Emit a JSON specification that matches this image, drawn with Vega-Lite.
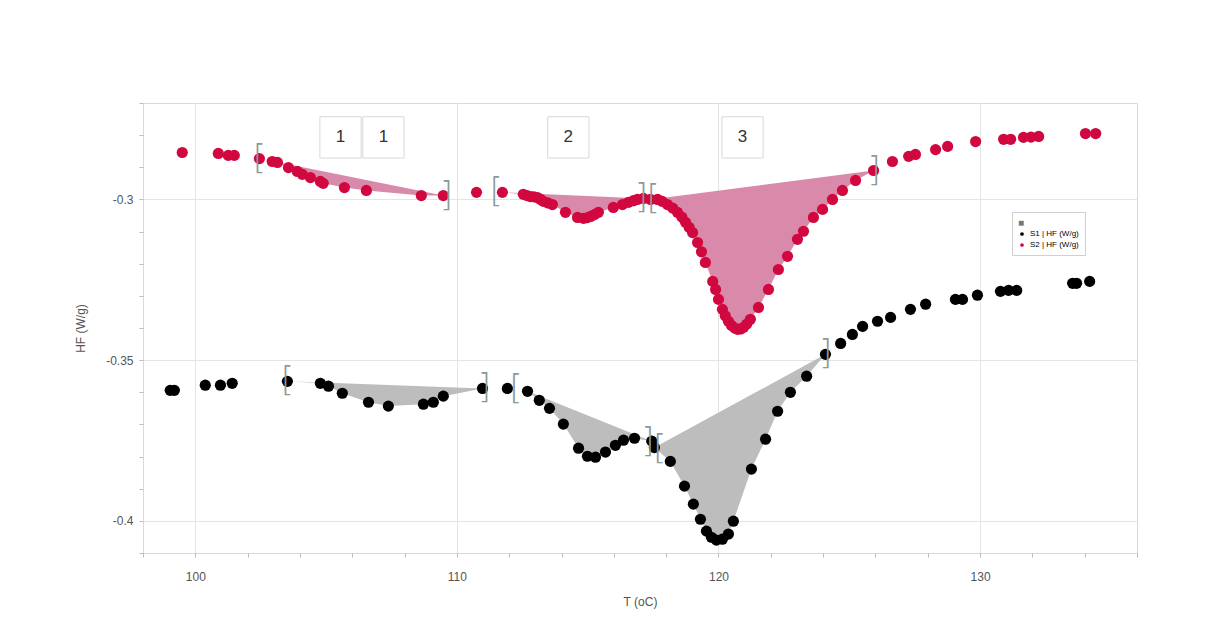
{
  "$schema": "https://vega.github.io/schema/vega-lite/v6.json",
  "autosize": {"type": "none"},
  "padding": {"left": 143, "top": 103, "right": 73, "bottom": 66},
  "width": 994,
  "height": 450,
  "background": "white",
  "config": {
    "view": {"stroke": "#d9d9d9", "strokeWidth": 1},
    "font": "Liberation Sans",
    "axis": {
      "labelFont": "Liberation Sans",
      "titleFont": "Liberation Sans",
      "labelColor": "#555",
      "titleColor": "#555",
      "labelFontSize": 12,
      "titleFontSize": 12,
      "titleFontWeight": "normal",
      "tickColor": "#bbb",
      "tickSize": 4,
      "gridColor": "#e4e4e4",
      "domain": false
    }
  },
  "datasets": {
    "hf": [
      {"T": 99.50, "v": -0.2854, "series": "S2 | HF (W/g)"},
      {"T": 100.88, "v": -0.2857, "series": "S2 | HF (W/g)"},
      {"T": 101.26, "v": -0.2863, "series": "S2 | HF (W/g)"},
      {"T": 101.49, "v": -0.2863, "series": "S2 | HF (W/g)"},
      {"T": 102.45, "v": -0.2873, "series": "S2 | HF (W/g)", "peak": "p1"},
      {"T": 102.94, "v": -0.2882, "series": "S2 | HF (W/g)", "peak": "p1"},
      {"T": 103.14, "v": -0.2885, "series": "S2 | HF (W/g)", "peak": "p1"},
      {"T": 103.56, "v": -0.2901, "series": "S2 | HF (W/g)", "peak": "p1"},
      {"T": 103.90, "v": -0.2913, "series": "S2 | HF (W/g)", "peak": "p1"},
      {"T": 104.09, "v": -0.2922, "series": "S2 | HF (W/g)", "peak": "p1"},
      {"T": 104.40, "v": -0.2932, "series": "S2 | HF (W/g)", "peak": "p1"},
      {"T": 104.78, "v": -0.2944, "series": "S2 | HF (W/g)", "peak": "p1"},
      {"T": 104.89, "v": -0.2950, "series": "S2 | HF (W/g)", "peak": "p1"},
      {"T": 105.70, "v": -0.2963, "series": "S2 | HF (W/g)", "peak": "p1"},
      {"T": 106.54, "v": -0.2972, "series": "S2 | HF (W/g)", "peak": "p1"},
      {"T": 108.64, "v": -0.2988, "series": "S2 | HF (W/g)", "peak": "p1"},
      {"T": 109.48, "v": -0.2988, "series": "S2 | HF (W/g)", "peak": "p1"},
      {"T": 110.75, "v": -0.2978, "series": "S2 | HF (W/g)"},
      {"T": 111.74, "v": -0.2978, "series": "S2 | HF (W/g)", "peak": "p2"},
      {"T": 112.54, "v": -0.2984, "series": "S2 | HF (W/g)", "peak": "p2"},
      {"T": 112.68, "v": -0.2988, "series": "S2 | HF (W/g)", "peak": "p2"},
      {"T": 112.81, "v": -0.2991, "series": "S2 | HF (W/g)", "peak": "p2"},
      {"T": 112.95, "v": -0.2992, "series": "S2 | HF (W/g)", "peak": "p2"},
      {"T": 113.08, "v": -0.2994, "series": "S2 | HF (W/g)", "peak": "p2"},
      {"T": 113.20, "v": -0.3000, "series": "S2 | HF (W/g)", "peak": "p2"},
      {"T": 113.31, "v": -0.3006, "series": "S2 | HF (W/g)", "peak": "p2"},
      {"T": 113.48, "v": -0.3011, "series": "S2 | HF (W/g)", "peak": "p2"},
      {"T": 113.65, "v": -0.3016, "series": "S2 | HF (W/g)", "peak": "p2"},
      {"T": 114.15, "v": -0.3040, "series": "S2 | HF (W/g)", "peak": "p2"},
      {"T": 114.61, "v": -0.3056, "series": "S2 | HF (W/g)", "peak": "p2"},
      {"T": 114.84, "v": -0.3059, "series": "S2 | HF (W/g)", "peak": "p2"},
      {"T": 114.97, "v": -0.3057, "series": "S2 | HF (W/g)", "peak": "p2"},
      {"T": 115.11, "v": -0.3053, "series": "S2 | HF (W/g)", "peak": "p2"},
      {"T": 115.26, "v": -0.3047, "series": "S2 | HF (W/g)", "peak": "p2"},
      {"T": 115.41, "v": -0.3040, "series": "S2 | HF (W/g)", "peak": "p2"},
      {"T": 115.98, "v": -0.3025, "series": "S2 | HF (W/g)", "peak": "p2"},
      {"T": 116.33, "v": -0.3016, "series": "S2 | HF (W/g)", "peak": "p2"},
      {"T": 116.56, "v": -0.3009, "series": "S2 | HF (W/g)", "peak": "p2"},
      {"T": 116.75, "v": -0.3004, "series": "S2 | HF (W/g)", "peak": "p2"},
      {"T": 116.90, "v": -0.3000, "series": "S2 | HF (W/g)", "peak": "p2"},
      {"T": 117.13, "v": -0.2997, "series": "S2 | HF (W/g)", "peak": "p2"},
      {"T": 117.40, "v": -0.3000, "series": "S2 | HF (W/g)", "peak": "p3"},
      {"T": 117.67, "v": -0.3000, "series": "S2 | HF (W/g)", "peak": "p3"},
      {"T": 117.85, "v": -0.3006, "series": "S2 | HF (W/g)", "peak": "p3"},
      {"T": 118.05, "v": -0.3016, "series": "S2 | HF (W/g)", "peak": "p3"},
      {"T": 118.25, "v": -0.3027, "series": "S2 | HF (W/g)", "peak": "p3"},
      {"T": 118.43, "v": -0.3040, "series": "S2 | HF (W/g)", "peak": "p3"},
      {"T": 118.60, "v": -0.3055, "series": "S2 | HF (W/g)", "peak": "p3"},
      {"T": 118.74, "v": -0.3071, "series": "S2 | HF (W/g)", "peak": "p3"},
      {"T": 118.88, "v": -0.3087, "series": "S2 | HF (W/g)", "peak": "p3"},
      {"T": 119.01, "v": -0.3103, "series": "S2 | HF (W/g)", "peak": "p3"},
      {"T": 119.20, "v": -0.3134, "series": "S2 | HF (W/g)", "peak": "p3"},
      {"T": 119.35, "v": -0.3163, "series": "S2 | HF (W/g)", "peak": "p3"},
      {"T": 119.50, "v": -0.3196, "series": "S2 | HF (W/g)", "peak": "p3"},
      {"T": 119.78, "v": -0.3255, "series": "S2 | HF (W/g)", "peak": "p3"},
      {"T": 119.89, "v": -0.3280, "series": "S2 | HF (W/g)", "peak": "p3"},
      {"T": 120.00, "v": -0.3311, "series": "S2 | HF (W/g)", "peak": "p3"},
      {"T": 120.15, "v": -0.3342, "series": "S2 | HF (W/g)", "peak": "p3"},
      {"T": 120.26, "v": -0.3362, "series": "S2 | HF (W/g)", "peak": "p3"},
      {"T": 120.38, "v": -0.3379, "series": "S2 | HF (W/g)", "peak": "p3"},
      {"T": 120.50, "v": -0.3392, "series": "S2 | HF (W/g)", "peak": "p3"},
      {"T": 120.62, "v": -0.3400, "series": "S2 | HF (W/g)", "peak": "p3"},
      {"T": 120.73, "v": -0.3404, "series": "S2 | HF (W/g)", "peak": "p3"},
      {"T": 120.85, "v": -0.3403, "series": "S2 | HF (W/g)", "peak": "p3"},
      {"T": 120.96, "v": -0.3398, "series": "S2 | HF (W/g)", "peak": "p3"},
      {"T": 121.08, "v": -0.3388, "series": "S2 | HF (W/g)", "peak": "p3"},
      {"T": 121.22, "v": -0.3373, "series": "S2 | HF (W/g)", "peak": "p3"},
      {"T": 121.53, "v": -0.3336, "series": "S2 | HF (W/g)", "peak": "p3"},
      {"T": 121.91, "v": -0.3280, "series": "S2 | HF (W/g)", "peak": "p3"},
      {"T": 122.29, "v": -0.3218, "series": "S2 | HF (W/g)", "peak": "p3"},
      {"T": 122.64, "v": -0.3177, "series": "S2 | HF (W/g)", "peak": "p3"},
      {"T": 123.02, "v": -0.3124, "series": "S2 | HF (W/g)", "peak": "p3"},
      {"T": 123.25, "v": -0.3099, "series": "S2 | HF (W/g)", "peak": "p3"},
      {"T": 123.63, "v": -0.3056, "series": "S2 | HF (W/g)", "peak": "p3"},
      {"T": 123.98, "v": -0.3031, "series": "S2 | HF (W/g)", "peak": "p3"},
      {"T": 124.36, "v": -0.3000, "series": "S2 | HF (W/g)", "peak": "p3"},
      {"T": 124.74, "v": -0.2972, "series": "S2 | HF (W/g)", "peak": "p3"},
      {"T": 125.24, "v": -0.2941, "series": "S2 | HF (W/g)", "peak": "p3"},
      {"T": 125.93, "v": -0.2910, "series": "S2 | HF (W/g)", "peak": "p3"},
      {"T": 126.65, "v": -0.2882, "series": "S2 | HF (W/g)"},
      {"T": 127.27, "v": -0.2866, "series": "S2 | HF (W/g)"},
      {"T": 127.53, "v": -0.2860, "series": "S2 | HF (W/g)"},
      {"T": 128.30, "v": -0.2845, "series": "S2 | HF (W/g)"},
      {"T": 128.76, "v": -0.2835, "series": "S2 | HF (W/g)"},
      {"T": 129.83, "v": -0.2820, "series": "S2 | HF (W/g)"},
      {"T": 130.90, "v": -0.2813, "series": "S2 | HF (W/g)"},
      {"T": 131.17, "v": -0.2813, "series": "S2 | HF (W/g)"},
      {"T": 131.66, "v": -0.2807, "series": "S2 | HF (W/g)"},
      {"T": 131.95, "v": -0.2806, "series": "S2 | HF (W/g)"},
      {"T": 132.24, "v": -0.2804, "series": "S2 | HF (W/g)"},
      {"T": 134.03, "v": -0.2795, "series": "S2 | HF (W/g)"},
      {"T": 134.42, "v": -0.2795, "series": "S2 | HF (W/g)"},
      {"T": 99.04, "v": -0.3594, "series": "S1 | HF (W/g)"},
      {"T": 99.20, "v": -0.3594, "series": "S1 | HF (W/g)"},
      {"T": 100.38, "v": -0.3578, "series": "S1 | HF (W/g)"},
      {"T": 100.96, "v": -0.3578, "series": "S1 | HF (W/g)"},
      {"T": 101.41, "v": -0.3572, "series": "S1 | HF (W/g)"},
      {"T": 103.52, "v": -0.3566, "series": "S1 | HF (W/g)", "peak": "p1"},
      {"T": 104.78, "v": -0.3572, "series": "S1 | HF (W/g)", "peak": "p1"},
      {"T": 105.09, "v": -0.3581, "series": "S1 | HF (W/g)", "peak": "p1"},
      {"T": 105.62, "v": -0.3603, "series": "S1 | HF (W/g)", "peak": "p1"},
      {"T": 106.62, "v": -0.3631, "series": "S1 | HF (W/g)", "peak": "p1"},
      {"T": 107.38, "v": -0.3643, "series": "S1 | HF (W/g)", "peak": "p1"},
      {"T": 108.72, "v": -0.3637, "series": "S1 | HF (W/g)", "peak": "p1"},
      {"T": 109.10, "v": -0.3631, "series": "S1 | HF (W/g)", "peak": "p1"},
      {"T": 109.48, "v": -0.3612, "series": "S1 | HF (W/g)", "peak": "p1"},
      {"T": 110.98, "v": -0.3588, "series": "S1 | HF (W/g)", "peak": "p1"},
      {"T": 111.93, "v": -0.3588, "series": "S1 | HF (W/g)"},
      {"T": 112.70, "v": -0.3597, "series": "S1 | HF (W/g)", "peak": "p2"},
      {"T": 113.15, "v": -0.3625, "series": "S1 | HF (W/g)", "peak": "p2"},
      {"T": 113.54, "v": -0.3650, "series": "S1 | HF (W/g)", "peak": "p2"},
      {"T": 114.07, "v": -0.3699, "series": "S1 | HF (W/g)", "peak": "p2"},
      {"T": 114.65, "v": -0.3774, "series": "S1 | HF (W/g)", "peak": "p2"},
      {"T": 114.99, "v": -0.3799, "series": "S1 | HF (W/g)", "peak": "p2"},
      {"T": 115.30, "v": -0.3802, "series": "S1 | HF (W/g)", "peak": "p2"},
      {"T": 115.68, "v": -0.3786, "series": "S1 | HF (W/g)", "peak": "p2"},
      {"T": 116.06, "v": -0.3765, "series": "S1 | HF (W/g)", "peak": "p2"},
      {"T": 116.37, "v": -0.3749, "series": "S1 | HF (W/g)", "peak": "p2"},
      {"T": 116.79, "v": -0.3743, "series": "S1 | HF (W/g)", "peak": "p2"},
      {"T": 117.45, "v": -0.3752, "series": "S1 | HF (W/g)", "peak": "p2"},
      {"T": 117.55, "v": -0.3772, "series": "S1 | HF (W/g)", "peak": "p3"},
      {"T": 118.16, "v": -0.3815, "series": "S1 | HF (W/g)", "peak": "p3"},
      {"T": 118.70, "v": -0.3892, "series": "S1 | HF (W/g)", "peak": "p3"},
      {"T": 119.04, "v": -0.3948, "series": "S1 | HF (W/g)", "peak": "p3"},
      {"T": 119.31, "v": -0.3995, "series": "S1 | HF (W/g)", "peak": "p3"},
      {"T": 119.54, "v": -0.4032, "series": "S1 | HF (W/g)", "peak": "p3"},
      {"T": 119.73, "v": -0.4051, "series": "S1 | HF (W/g)", "peak": "p3"},
      {"T": 119.92, "v": -0.4060, "series": "S1 | HF (W/g)", "peak": "p3"},
      {"T": 120.15, "v": -0.4057, "series": "S1 | HF (W/g)", "peak": "p3"},
      {"T": 120.38, "v": -0.4041, "series": "S1 | HF (W/g)", "peak": "p3"},
      {"T": 120.57, "v": -0.4001, "series": "S1 | HF (W/g)", "peak": "p3"},
      {"T": 121.26, "v": -0.3839, "series": "S1 | HF (W/g)", "peak": "p3"},
      {"T": 121.80, "v": -0.3746, "series": "S1 | HF (W/g)", "peak": "p3"},
      {"T": 122.26, "v": -0.3659, "series": "S1 | HF (W/g)", "peak": "p3"},
      {"T": 122.75, "v": -0.3600, "series": "S1 | HF (W/g)", "peak": "p3"},
      {"T": 123.37, "v": -0.3550, "series": "S1 | HF (W/g)", "peak": "p3"},
      {"T": 124.09, "v": -0.3482, "series": "S1 | HF (W/g)", "peak": "p3"},
      {"T": 124.67, "v": -0.3448, "series": "S1 | HF (W/g)"},
      {"T": 125.12, "v": -0.3420, "series": "S1 | HF (W/g)"},
      {"T": 125.51, "v": -0.3395, "series": "S1 | HF (W/g)"},
      {"T": 126.08, "v": -0.3379, "series": "S1 | HF (W/g)"},
      {"T": 126.58, "v": -0.3367, "series": "S1 | HF (W/g)"},
      {"T": 127.34, "v": -0.3342, "series": "S1 | HF (W/g)"},
      {"T": 127.92, "v": -0.3326, "series": "S1 | HF (W/g)"},
      {"T": 129.06, "v": -0.3311, "series": "S1 | HF (W/g)"},
      {"T": 129.33, "v": -0.3311, "series": "S1 | HF (W/g)"},
      {"T": 129.90, "v": -0.3298, "series": "S1 | HF (W/g)"},
      {"T": 130.78, "v": -0.3286, "series": "S1 | HF (W/g)"},
      {"T": 131.09, "v": -0.3283, "series": "S1 | HF (W/g)"},
      {"T": 131.40, "v": -0.3283, "series": "S1 | HF (W/g)"},
      {"T": 133.54, "v": -0.3261, "series": "S1 | HF (W/g)"},
      {"T": 133.69, "v": -0.3261, "series": "S1 | HF (W/g)"},
      {"T": 134.19, "v": -0.3255, "series": "S1 | HF (W/g)"}
    ],
    "brackets": [
      {"T": 102.45, "v": -0.2873, "glyph": "["},
      {"T": 109.60, "v": -0.2988, "glyph": "]"},
      {"T": 111.50, "v": -0.2978, "glyph": "["},
      {"T": 117.05, "v": -0.2997, "glyph": "]"},
      {"T": 117.50, "v": -0.2999, "glyph": "["},
      {"T": 125.95, "v": -0.2910, "glyph": "]"},
      {"T": 103.52, "v": -0.3566, "glyph": "["},
      {"T": 111.05, "v": -0.3588, "glyph": "]"},
      {"T": 112.25, "v": -0.3590, "glyph": "["},
      {"T": 117.30, "v": -0.3755, "glyph": "]"},
      {"T": 117.75, "v": -0.3775, "glyph": "["},
      {"T": 124.10, "v": -0.3482, "glyph": "]"}
    ],
    "notes": [
      {"T": 105.55, "v": -0.2807, "label": "1"},
      {"T": 107.19, "v": -0.2807, "label": "1"},
      {"T": 114.26, "v": -0.2807, "label": "2"},
      {"T": 120.92, "v": -0.2807, "label": "3"}
    ]
  },
  "encoding": {
    "x": {
      "field": "T",
      "type": "quantitative",
      "scale": {"domain": [98, 136], "nice": false, "zero": false},
      "axis": {
        "title": "T (oC)",
        "values": [98, 100, 102, 104, 106, 108, 110, 112, 114, 116, 118, 120, 122, 124, 126, 128, 130, 132, 134, 136],
        "labelExpr": "datum.value % 10 === 0 ? toString(datum.value) : ''",
        "gridOpacity": {"condition": {"test": "datum.value % 10 === 0", "value": 1}, "value": 0},
        "labelPadding": 14,
        "titlePadding": 14
      }
    },
    "y": {
      "field": "v",
      "type": "quantitative",
      "scale": {"domain": [-0.41, -0.27], "nice": false, "zero": false},
      "axis": {
        "title": "HF (W/g)",
        "values": [-0.41, -0.4, -0.39, -0.38, -0.37, -0.36, -0.35, -0.34, -0.33, -0.32, -0.31, -0.3, -0.29, -0.28, -0.27],
        "labelExpr": "abs(datum.value*20 - round(datum.value*20)) < 0.001 ? toString(round(datum.value*100)/100) : ''",
        "gridOpacity": {"condition": {"test": "abs(datum.value*20 - round(datum.value*20)) < 0.001", "value": 1}, "value": 0},
        "labelPadding": 6,
        "titlePadding": 18
      }
    }
  },
  "layer": [
    {
      "data": {"name": "hf"},
      "transform": [{"filter": "isValid(datum.peak) && datum.series === 'S2 | HF (W/g)'"}],
      "mark": {"type": "line", "fill": "#d98aab", "strokeOpacity": 0, "fillOpacity": 1},
      "encoding": {"detail": {"field": "peak"}}
    },
    {
      "data": {"name": "hf"},
      "transform": [{"filter": "isValid(datum.peak) && datum.series === 'S1 | HF (W/g)'"}],
      "mark": {"type": "line", "fill": "#bdbdbd", "strokeOpacity": 0, "fillOpacity": 1},
      "encoding": {"detail": {"field": "peak"}}
    },
    {
      "data": {"name": "hf"},
      "mark": {"type": "circle", "size": 125, "opacity": 1},
      "encoding": {
        "color": {
          "field": "series",
          "type": "nominal",
          "scale": {"domain": ["S1 | HF (W/g)", "S2 | HF (W/g)"], "range": ["#000000", "#d1083f"]},
          "legend": {
            "title": "■",
            "titleFontSize": 10,
            "titleColor": "#777",
            "titlePadding": 2,
            "orient": "none",
            "legendX": 869,
            "legendY": 109,
            "labelFontSize": 8,
            "symbolSize": 14,
            "symbolType": "circle",
            "rowPadding": 3,
            "padding": 6,
            "strokeColor": "#d0d0d0",
            "fillColor": "white",
            "encode": {
              "labels": {
                "update": {
                  "fill": {"signal": "datum.value === 'S2 | HF (W/g)' ? '#d1083f' : '#000000'"}
                }
              }
            }
          }
        }
      }
    },
    {
      "data": {"name": "brackets"},
      "mark": {"type": "text", "fontSize": 34, "font": "DejaVu Sans", "fontWeight": 200, "color": "#8a9a9a", "baseline": "middle", "align": "center"},
      "encoding": {"text": {"field": "glyph"}}
    },
    {
      "data": {"name": "notes"},
      "mark": {"type": "point", "shape": "square", "size": 1700, "filled": true, "fill": "white", "stroke": "#d8d8d8", "strokeWidth": 1, "opacity": 1},
      "encoding": {}
    },
    {
      "data": {"name": "notes"},
      "mark": {"type": "text", "fontSize": 17, "color": "#333", "baseline": "middle", "align": "center"},
      "encoding": {"text": {"field": "label"}}
    }
  ]
}
